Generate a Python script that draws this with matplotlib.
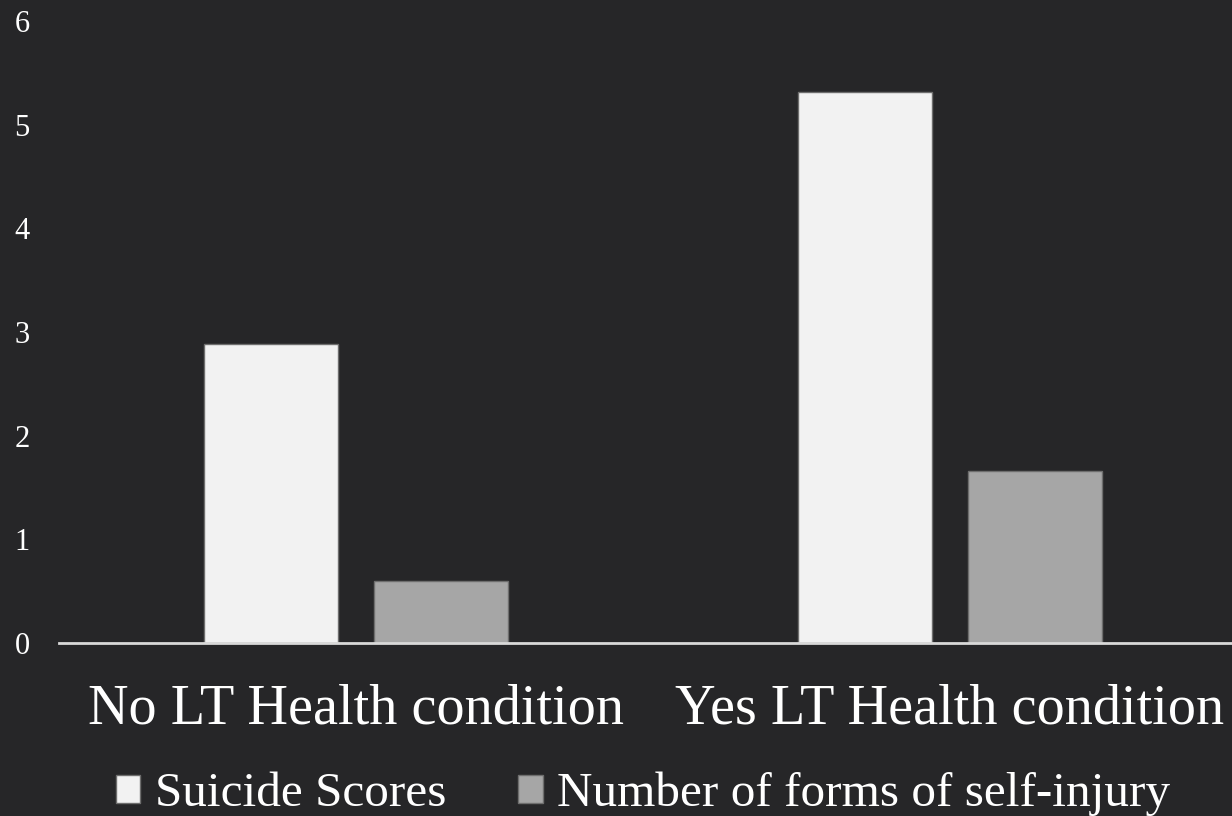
import matplotlib.pyplot as plt
import numpy as np

# Mean scores by long-term health condition status
categories = ["No LT Health condition", "Yes LT Health condition"]
series_names = ["Suicide Scores", "Number of forms of self-injury"]
suicide_scores = [2.89, 5.32]
self_injury_forms = [0.60, 1.66]
y_ticks = [0, 1, 2, 3, 4, 5, 6]

BG = "#262628"
COLORS = ["#f2f2f2", "#a6a6a6"]

plt.rcParams["font.family"] = ["Liberation Serif", "DejaVu Serif"]

fig = plt.figure(figsize=(12.32, 8.16), dpi=100, facecolor=BG)
# axes runs slightly past the right edge, like the slide it came from
ax = fig.add_axes([0.0479, 0.212, 0.9643, 0.762])
ax.set_facecolor(BG)

x = np.arange(len(categories))
width = 0.2256
offset = 0.143
bars = []
for i, (vals, color) in enumerate(zip([suicide_scores, self_injury_forms], COLORS)):
    b = ax.bar(x + (i - 0.5) * 2 * offset, vals, width, color=color,
               edgecolor="#6e6e6e", linewidth=1.0, label=series_names[i], zorder=2)
    bars.append(b)

ax.set_xlim(-0.5, 1.5)
ax.set_ylim(0, 6)
ax.set_yticks(y_ticks)
ax.set_xticks(x)
ax.set_xticklabels(categories, fontsize=40.5, color="white")
for lbl in ax.get_yticklabels():
    lbl.set_horizontalalignment("left")
ax.tick_params(axis="y", length=0, pad=32, labelsize=22, labelcolor="white")
ax.tick_params(axis="x", length=0, pad=29)

for side in ["top", "right", "left"]:
    ax.spines[side].set_visible(False)
ax.spines["bottom"].set_color("#d9d9d9")
ax.spines["bottom"].set_linewidth(2)
ax.spines["bottom"].set_zorder(3)

fig.legend(handles=bars, labels=series_names, loc="center",
           bbox_to_anchor=(0.522, 0.027), ncol=2, frameon=False,
           fontsize=35.5, handlelength=0.5, handleheight=0.5,
           handletextpad=0.3, columnspacing=1.45, labelcolor="white")

fig.savefig("out.png", dpi=100, facecolor=BG)
